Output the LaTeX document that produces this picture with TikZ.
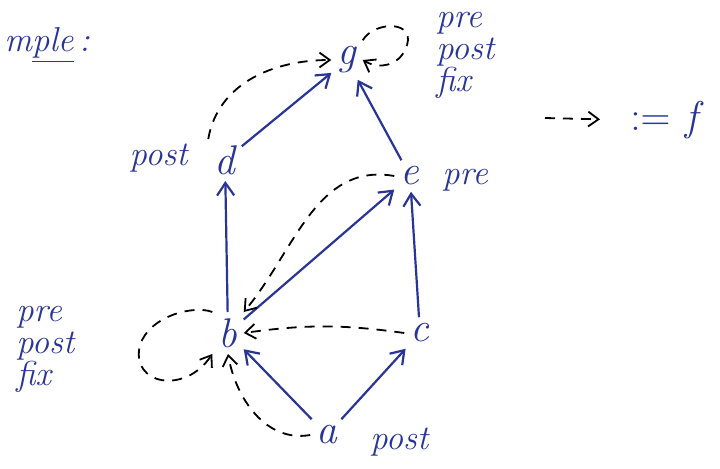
\documentclass[tikz,border=0pt]{standalone}
\usepackage{tikz}
\usetikzlibrary{arrows.meta,positioning}
\definecolor{ink}{RGB}{40,52,150}

\begin{document}
\begin{tikzpicture}[
    x=0.5pt, y=-0.5pt,
    vertex/.style={text=ink, font=\huge\itshape, inner sep=3pt},
    note/.style={text=ink, font=\LARGE\itshape, align=left, inner sep=1pt},
    tree/.style={-{Straight Barb[length=2.2mm,width=3mm]}, line width=1.1pt, draw=ink},
    trav/.style={-{Straight Barb[length=1.8mm,width=2.6mm]}, line width=0.9pt, draw=black,
      dash pattern=on 5pt off 4pt}
  ]
    \useasboundingbox (0,0) rectangle (720,468);

    % vertices
    \node[vertex] (g) at (347,60) {g};
    \node[vertex] (d) at (225,160) {d};
    \node[vertex] (e) at (410,176) {e};
    \node[vertex] (b) at (228,333) {b};
    \node[vertex] (c) at (420,333) {c};
    \node[vertex] (a) at (327,435) {a};

    % labels
    \node[note, anchor=west] (title) at (2,45) {m\underline{ple}\,:};
    \node[note, anchor=east] (dpost) at (190,158) {post};
    \node[note, anchor=west] (epre) at (440,180) {pre};
    \node[note, anchor=north west] (gnote) at (434,10) {pre\\[-6pt]post\\[-6pt]fix};
    \node[note, anchor=north west] (bnote) at (14,304) {pre\\[-6pt]post\\[-6pt]fix};
    \node[note, anchor=west] (apost) at (368,442) {post};

    % legend
    \coordinate (lstart) at (545,118);
    \node[note, anchor=west, font=\huge\itshape] (ldef) at (628,120) {$:=$ f};

    % tree edges
    \draw[tree] (d) -- (g);
    \draw[tree] (e) -- (g);
    \draw[tree] (b) -- (d);
    \draw[tree] (b) -- (e);
    \draw[tree] (c) -- (e);
    \draw[tree] (a) -- (b);
    \draw[tree] (a) -- (c);

    % traversal
    \draw[trav] (d.north west) to[out=80, in=180] (g.west);
    \draw[trav] (g.north east) .. controls (375,20) and (420,20) .. (405,50)
                .. controls (398,65) and (380,70) .. (g.east);
    \draw[trav] (e.west) to[out=170, in=50] (b.north east);
    \draw[trav] (c.west) to[bend right=8] (b.east);
    \draw[trav] (b.north west) .. controls (195,305) and (150,315) .. (140,345)
                .. controls (130,385) and (185,395) .. (b.south west);
    \draw[trav] (a.west) to[out=190, in=-80] (b.south);
    \draw[trav, shorten >=14pt] (lstart) -- (ldef.west);

\end{tikzpicture}
\end{document}
